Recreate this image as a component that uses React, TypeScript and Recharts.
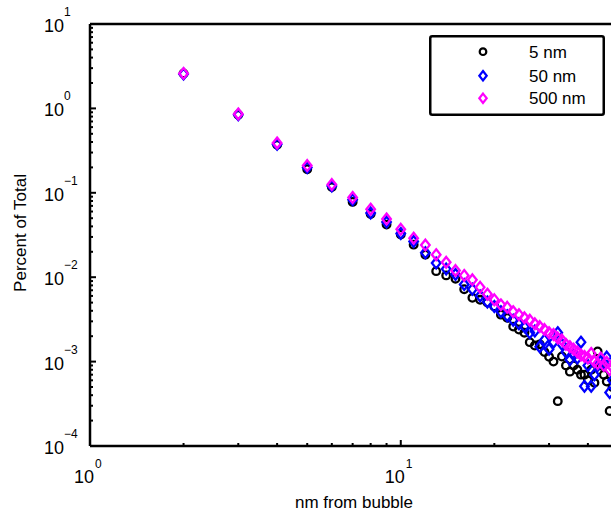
import React from 'react';
import { ScatterChart, Scatter, XAxis, YAxis, Legend } from 'recharts';

const FONT = '"Liberation Sans", Arial, Helvetica, sans-serif';

// distances from bubble (nm)
const xValues = [
  2, 3, 4, 5, 6, 7, 8, 9, 10,
  11, 12, 13, 14, 15, 16, 17, 18, 19, 20,
  21, 22, 23, 24, 25, 26, 27, 28, 29, 30,
  31, 32, 33, 34, 35, 36, 37, 38, 39, 40,
  41, 42, 43, 44, 45, 46, 47, 48, 49, 50,
];

// percent of total, 5 nm
const values5nm = [
  2.6, 0.84, 0.37, 0.19, 0.117, 0.078, 0.056, 0.042, 0.032,
  0.0243, 0.0185, 0.0118, 0.0105, 0.0096, 0.0072, 0.0057, 0.0054, 0.005, 0.0045,
  0.0036, 0.0033, 0.0026, 0.0024, 0.0022, 0.0017, 0.00155, 0.0016, 0.0013, 0.00114,
  0.001, 0.00034, 0.00115, 0.0009, 0.00076, 0.0009, 0.0008, 0.0007, 0.0007, 0.0006,
  0.0008, 0.00056, 0.00132, 0.0009, 0.0007, 0.00058, 0.00026, 0.0005, 0.0006, 0.0004,
];

// percent of total, 50 nm
const values50nm = [
  2.55, 0.84, 0.375, 0.2, 0.12, 0.083, 0.0575, 0.045, 0.033,
  0.0265, 0.0195, 0.0147, 0.0125, 0.0108, 0.0082, 0.0072, 0.006, 0.0051, 0.0045,
  0.0039, 0.0035, 0.0031, 0.0028, 0.0026, 0.0022, 0.0023, 0.0015, 0.0018, 0.0014,
  0.0017, 0.0022, 0.0016, 0.0013, 0.00105, 0.0012, 0.0011, 0.0017, 0.00051, 0.0009,
  0.00051, 0.0007, 0.0009, 0.001, 0.00095, 0.00113, 0.00043, 0.0006, 0.0008, 0.0005,
];

// percent of total, 500 nm
const values500nm = [
  2.6, 0.86, 0.39, 0.21, 0.125, 0.088, 0.064, 0.049, 0.037,
  0.029, 0.024, 0.0185, 0.015, 0.012, 0.0105, 0.0093, 0.0076, 0.0063, 0.0054,
  0.0047, 0.0044, 0.0039, 0.0036, 0.0033, 0.0031, 0.0028, 0.0026, 0.0024, 0.0022,
  0.0021, 0.0019, 0.0018, 0.0016, 0.0015, 0.0014, 0.0013, 0.0012, 0.00115, 0.0011,
  0.00125, 0.001, 0.00095, 0.0011, 0.0009, 0.00098, 0.0008, 0.00085, 0.00078, 0.00075,
];

const seriesNames = ['5 nm', '50 nm', '500 nm'];
const seriesColors = ['#000000', '#0000ff', '#ff00ff'];

const xDomain = [1, 50];
const yDomain = [1e-4, 10];
const xMajorTicks = [1, 10];
const xMinorTicks = [2, 3, 4, 5, 6, 7, 8, 9, 20, 30, 40, 50];
const yMajorTicks = [1e-4, 1e-3, 1e-2, 1e-1, 1, 10];
const minorMultipliers = [2, 3, 4, 5, 6, 7, 8, 9];

const xTicks = [...xMajorTicks, ...xMinorTicks].sort((a, b) => a - b);
const yTicks = [
  ...yMajorTicks,
  ...yMajorTicks.slice(0, -1).flatMap((d) => minorMultipliers.map((m) => m * d)),
].sort((a, b) => a - b);

const toPoints = (vals: number[]) => xValues.map((x, i) => ({ x, y: vals[i] }));
const data5 = toPoints(values5nm);
const data50 = toPoints(values50nm);
const data500 = toPoints(values500nm);

const isMajor = (v: number, majors: number[]) =>
  majors.some((m) => Math.abs(v - m) / m < 1e-6);

const expLabel = (v: number) => {
  const e = Math.round(Math.log10(v));
  return e < 0 ? `\u2212${-e}` : `${e}`;
};

const MAJOR_LEN = 6;
const MINOR_LEN = 3;

const XTick = (props: any) => {
  const { x, y, payload, side } = props;
  const v = payload.value;
  const major = isMajor(v, xMajorTicks);
  const len = major ? MAJOR_LEN : MINOR_LEN;
  const dir = side === 'top' ? 1 : -1;
  return (
    <g>
      <line x1={x} y1={y} x2={x} y2={y + dir * len} stroke="#000" strokeWidth={2} />
      {major && side !== 'top' ? (
        <g fontFamily={FONT} fill="#000">
          <text x={x + 4} y={y + 37} textAnchor="end" fontSize={18}>10</text>
          <text x={x + 5} y={y + 22} textAnchor="start" fontSize={12}>{expLabel(v)}</text>
        </g>
      ) : null}
    </g>
  );
};

const YTick = (props: any) => {
  const { x, y, payload } = props;
  const v = payload.value;
  const major = isMajor(v, yMajorTicks);
  const len = major ? MAJOR_LEN : MINOR_LEN;
  return (
    <g>
      <line x1={x} y1={y} x2={x + len} y2={y} stroke="#000" strokeWidth={2} />
      {major ? (
        <g fontFamily={FONT} fill="#000">
          <text x={x - 26} y={y + 8} textAnchor="end" fontSize={18}>10</text>
          <text x={x - 26} y={y - 8} textAnchor="start" fontSize={12}>{expLabel(v)}</text>
        </g>
      ) : null}
    </g>
  );
};

const CircleMarker = (props: any) => {
  const { cx, cy } = props;
  if (cx == null || cy == null) return null;
  return <circle cx={cx} cy={cy} r={3.8} fill="none" stroke="#000000" strokeWidth={2.3} />;
};

const makeDiamond = (color: string) => (props: any) => {
  const { cx, cy } = props;
  if (cx == null || cy == null) return null;
  const pts = `${cx},${cy - 5.4} ${cx + 4.3},${cy} ${cx},${cy + 5.4} ${cx - 4.3},${cy}`;
  return <polygon points={pts} fill="none" stroke={color} strokeWidth={2.3} />;
};

const BlueDiamond = makeDiamond(seriesColors[1]);
const MagentaDiamond = makeDiamond(seriesColors[2]);

const YLabel = (props: any) => {
  const vb = props.viewBox || {};
  const cy = (vb.y ?? 24) + (vb.height ?? 422) / 2 - 2;
  const cx = 20;
  return (
    <text
      x={cx}
      y={cy}
      transform={`rotate(-90 ${cx} ${cy})`}
      textAnchor="middle"
      dominantBaseline="central"
      fontSize={17}
      fontFamily={FONT}
      fill="#000"
    >
      Percent of Total
    </text>
  );
};

const XLabel = (props: any) => {
  const vb = props.viewBox || {};
  const cx = (vb.x ?? 90) + (vb.width ?? 528) / 2;
  const y = (vb.y ?? 446) + 62;
  return (
    <text x={cx} y={y} textAnchor="middle" fontSize={17} fontFamily={FONT} fill="#000">
      nm from bubble
    </text>
  );
};

const LegendBox = () => {
  const rows = [16.7, 40.7, 63.3];
  return (
    <svg width={176} height={81} style={{ display: 'block' }}>
      <rect x={1.25} y={1.25} width={173.5} height={78.5} rx={2} ry={2} fill="#fff" stroke="#000" strokeWidth={2.5} />
      {seriesNames.map((name, i) => {
        const cy = rows[i];
        const cx = 54;
        return (
          <g key={name}>
            {i === 0 ? (
              <circle cx={cx} cy={cy} r={3.3} fill="none" stroke={seriesColors[0]} strokeWidth={2.2} />
            ) : (
              <polygon
                points={`${cx},${cy - 4.7} ${cx + 3.7},${cy} ${cx},${cy + 4.7} ${cx - 3.7},${cy}`}
                fill="none"
                stroke={seriesColors[i]}
                strokeWidth={2.2}
              />
            )}
            <text x={100} y={cy + 6} fontSize={17} fontFamily={FONT} fill="#000">
              {name}
            </text>
          </g>
        );
      })}
    </svg>
  );
};

export default function App() {
  return (
    <div
      style={{
        position: 'absolute',
        left: 0,
        top: 0,
        width: 611,
        height: 517,
        overflow: 'hidden',
        background: '#fff',
      }}
    >
      <ScatterChart width={640} height={517} margin={{ top: 14, right: 22, bottom: 0, left: 0 }}>
        <XAxis
          xAxisId={0}
          dataKey="x"
          type="number"
          scale="log"
          domain={xDomain}
          allowDataOverflow
          ticks={xTicks}
          interval={0}
          tickSize={0}
          tickMargin={0}
          tickLine={false}
          tick={(p: any) => <XTick {...p} side="bottom" />}
          axisLine={{ stroke: '#000', strokeWidth: 2.5 }}
          height={71}
          label={(p: any) => <XLabel {...p} />}
        />
        <XAxis
          xAxisId={1}
          orientation="top"
          type="number"
          scale="log"
          domain={xDomain}
          allowDataOverflow
          ticks={xTicks}
          interval={0}
          tickSize={0}
          tickMargin={0}
          tickLine={false}
          tick={(p: any) => <XTick {...p} side="top" />}
          axisLine={{ stroke: '#000', strokeWidth: 2.5 }}
          height={10}
        />
        <YAxis
          yAxisId={0}
          dataKey="y"
          type="number"
          scale="log"
          domain={yDomain}
          allowDataOverflow
          ticks={yTicks}
          interval={0}
          tickSize={0}
          tickMargin={0}
          tickLine={false}
          tick={(p: any) => <YTick {...p} />}
          axisLine={{ stroke: '#000', strokeWidth: 2.5 }}
          width={90}
          label={(p: any) => <YLabel {...p} />}
        />
        <Legend
          layout="vertical"
          align="center"
          verticalAlign="middle"
          content={() => <LegendBox />}
          wrapperStyle={{ left: 429, top: 35, width: 176, height: 81 }}
        />
        <Scatter
          name={seriesNames[0]}
          data={data5}
          xAxisId={0}
          yAxisId={0}
          shape={CircleMarker}
          fill={seriesColors[0]}
          isAnimationActive={false}
        />
        <Scatter
          name={seriesNames[1]}
          data={data50}
          xAxisId={0}
          yAxisId={0}
          shape={BlueDiamond}
          fill={seriesColors[1]}
          isAnimationActive={false}
        />
        <Scatter
          name={seriesNames[2]}
          data={data500}
          xAxisId={0}
          yAxisId={0}
          shape={MagentaDiamond}
          fill={seriesColors[2]}
          isAnimationActive={false}
        />
      </ScatterChart>
    </div>
  );
}
